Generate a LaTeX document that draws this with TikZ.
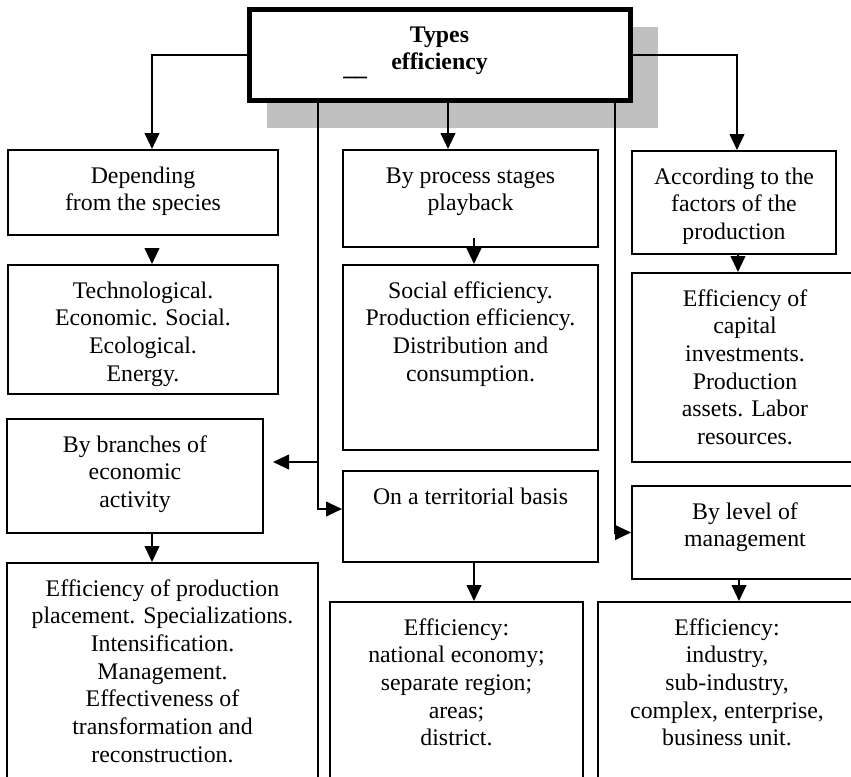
\documentclass[tikz,border=0pt]{standalone}
\usepackage{fontspec}
\setmainfont{Liberation Serif}
\usetikzlibrary{arrows.meta}
\newlength{\px}
\setlength{\px}{0.75pt}
\definecolor{shadowgray}{RGB}{192,192,192}
\newcommand{\cell}[3]{\parbox[c][#2][t]{#1}{\centering\rule{0pt}{33\px}#3}}

\begin{document}
\begin{tikzpicture}[x=0.75pt, y=-0.75pt,
    box/.style={draw, line width=2\px, inner sep=0pt, font=\fontsize{17.85}{20.8}\selectfont},
    arr/.style={line width=2\px, -{Triangle[length=12pt, width=11pt]}}]
    \useasboundingbox (0,0) rectangle (851,776);
    \clip (0,0) rectangle (851,776);

    % title with its shadow
    \fill[shadowgray] (267,27) rectangle (658,128);
    \node[box, line width=5\px, fill=white] (top) at (439.5,54.5) {\cell{381\px}{91\px}{\bfseries Types\\efficiency}};
    \node[font=\fontsize{17.85}{20.8}\selectfont\bfseries, anchor=base west, inner sep=0pt] (uline) at (343,75) {\_\_};

    % first row
    \node[box] (dep) at (143,192.5) {\cell{270\px}{85\px}{Depending\\from the species}};
    \node[box] (stage) at (470.5,198.5) {\cell{255\px}{97\px}{By process stages\\playback}};
    \node[box] (factor) at (734,202.5) {\cell{204\px}{103\px}{According to the\\factors of the\\production}};

    % second row
    \node[box] (tech) at (143,329.5) {\cell{270\px}{129\px}{Technological.\\Economic. Social.\\Ecological.\\Energy.}};
    \node[box] (social) at (470.5,357.5) {\cell{255\px}{185\px}{Social efficiency.\\Production efficiency.\\Distribution and\\consumption.}};
    \node[box] (capital) at (745,367.5) {\cell{226\px}{189\px}{Efficiency of\\capital\\investments.\\Production\\assets. Labor\\resources.}};

    % third row
    \node[box] (branch) at (135,476) {\cell{256\px}{114\px}{By branches of\\economic\\activity}};
    \node[box] (terr) at (470.5,516.5) {\cell{255\px}{91\px}{On a territorial basis}};
    \node[box] (level) at (745,532.5) {\cell{226\px}{93\px}{By level of\\management}};

    % last row
    \node[box] (place) at (162.5,681.5) {\cell{311\px}{237\px}{Efficiency of production\\placement. Specializations.\\Intensification.\\Management.\\Effectiveness of\\transformation and\\reconstruction.}};
    \node[box] (nation) at (456.5,701) {\cell{253\px}{198\px}{Efficiency:\\national economy;\\separate region;\\areas;\\district.}};
    \node[box] (unit) at (727,701) {\cell{258\px}{198\px}{Efficiency:\\industry,\\sub-industry,\\complex, enterprise,\\business unit.}};

    % links from the title
    \coordinate (lt) at ([xshift=-121.5\px]top.south);
    \coordinate (rt) at ([xshift=175.5\px]top.south);
    \coordinate (mid) at ([xshift=8.5\px]top.south);
    \coordinate (bt) at ([yshift=14\px]branch.east);
    \draw[arr] (top.west) -| ([xshift=9\px]dep.north);
    \draw[arr] (top.east) -| ([xshift=3\px]factor.north);
    \draw[arr] (mid) -- (mid |- stage.north);
    \draw[arr] (lt) |- ([yshift=7.5\px]terr.west);
    \draw[arr, shorten >=9\px] (lt |- bt) -- (bt);
    \draw[arr] (rt) |- (level.west);

    % links inside the columns
    \draw[arr, shorten <=13\px] ([xshift=9\px]dep.south) -- ([xshift=9\px]tech.north);
    \draw[arr] ([xshift=3.5\px, yshift=10\px]stage.south) -- ([xshift=3.5\px]social.north);
    \draw[arr] ([xshift=4\px]factor.south) -- ([xshift=-7\px]capital.north);
    \draw[arr] ([xshift=17\px]branch.south) -- ([xshift=-10.5\px]place.north);
    \draw[arr] ([xshift=3.5\px]terr.south) -- ([xshift=17.5\px]nation.north);
    \draw[arr] ([xshift=-6\px]level.south) -- ([xshift=12\px]unit.north);
\end{tikzpicture}
\end{document}
